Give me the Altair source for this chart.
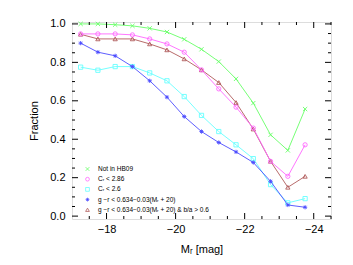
import altair as alt
import pandas as pd

# ---- data ----
mag = [-17.25, -17.75, -18.25, -18.75, -19.25, -19.75, -20.25, -20.75,
       -21.25, -21.75, -22.25, -22.75, -23.25, -23.75]
not_hb09 = [1.00, 1.00, 0.996, 0.99, 0.977, 0.958, 0.92, 0.868, 0.804, 0.714, 0.588, 0.423, 0.342, 0.557]
cr_286 = [0.948, 0.948, 0.948, 0.943, 0.922, 0.896, 0.853, 0.761, 0.662, 0.567, 0.458, 0.285, 0.207, 0.371]
cr_26 = [0.775, 0.759, 0.778, 0.778, 0.745, 0.704, 0.622, 0.524, 0.44, 0.371, 0.299, 0.164, 0.069, 0.091]
gr_cut = [0.90, 0.853, 0.834, 0.778, 0.704, 0.619, 0.518, 0.44, 0.383, 0.334, 0.279, 0.181, 0.058, 0.046]
gr_ba = [0.946, 0.922, 0.922, 0.922, 0.896, 0.865, 0.818, 0.761, 0.695, 0.591, 0.453, 0.285, 0.15, 0.207]

labels = ["Not in HB09", "Cᵣ < 2.86", "Cᵣ < 2.6",
          "g −r < 0.634−0.03(Mᵣ + 20)",
          "g −r < 0.634−0.03(Mᵣ + 20) & b/a > 0.6"]
series = [not_hb09, cr_286, cr_26, gr_cut, gr_ba]
colors = ["#66ff66", "#ff66ff", "#66ffff", "#4c4cff", "#b05a5a"]
XSHAPE = "M-1,-1L1,1M-1,1L1,-1"
ASTER = "M-1,0L1,0M0,-1L0,1M-0.7,-0.7L0.7,0.7M-0.7,0.7L0.7,-0.7"
shapes = [XSHAPE, "circle", "square", ASTER, "triangle-up"]
# draw order (back to front)
order = [0, 2, 3, 4, 1]

x_major = [-18, -20, -22, -24]
x_minor = [-17.5, -18.5, -19.0, -19.5, -20.5, -21.0, -21.5, -22.5, -23.0, -23.5, -24.5]
y_major = [0.0, 0.2, 0.4, 0.6, 0.8, 1.0]
y_minor = [0.05, 0.1, 0.15, 0.25, 0.3, 0.35, 0.45, 0.5, 0.55, 0.65, 0.7, 0.75, 0.85, 0.9, 0.95]

W, H = 259, 197
FONT = "Liberation Sans"

xscale = alt.Scale(domain=[-17.0, -24.5], nice=False, zero=False)
yscale = alt.Scale(domain=[-0.015, 1.01], nice=False, zero=False)

xaxis = alt.Axis(values=x_major, format="d", ticks=False, grid=False, domain=False,
                 labelOverlap=False, labelFlush=False,
                 labelFont=FONT, labelFontSize=11, labelColor="black", labelPadding=4,
                 title="Mᵣ [mag]", titleFont=FONT, titleFontSize=11, titleFontWeight="normal",
                 titleColor="black", titlePadding=9, labelExpr="replace(datum.label, '-', '−')")
yaxis = alt.Axis(values=y_major, format=".1f", ticks=False, grid=False, domain=False,
                 labelOverlap=False, labelFlush=False,
                 labelFont=FONT, labelFontSize=11, labelColor="black", labelPadding=7,
                 title="Fraction", titleFont=FONT, titleFontSize=11, titleFontWeight="normal",
                 titleColor="black", titlePadding=10)

layers = []
for i in order:
    df = pd.DataFrame({"M": mag, "f": series[i]})
    base = alt.Chart(df)
    xenc = alt.X("M:Q", scale=xscale, axis=xaxis)
    yenc = alt.Y("f:Q", scale=yscale, axis=yaxis)
    line = base.mark_line(color=colors[i], strokeWidth=0.9).encode(x=xenc, y=yenc)
    pts = base.mark_point(shape=shapes[i], color=colors[i], filled=False, size=18,
                          strokeWidth=0.9, opacity=1).encode(x=xenc, y=yenc)
    layers += [line, pts]

# inward tick marks on all four sides
def xticks(vals, length):
    d = pd.DataFrame({"t": vals})
    b = alt.Chart(d).mark_rule(color="black", strokeWidth=1)
    xe = alt.X("t:Q", scale=xscale, axis=xaxis, title="Mᵣ [mag]")
    return [
        b.encode(x=xe, y=alt.value(H), y2=alt.value(H - length)),
        b.encode(x=xe, y=alt.value(0), y2=alt.value(length)),
    ]

def yticks(vals, length):
    d = pd.DataFrame({"t": vals})
    b = alt.Chart(d).mark_rule(color="black", strokeWidth=1)
    ye = alt.Y("t:Q", scale=yscale, axis=yaxis, title="Fraction")
    return [
        b.encode(y=ye, x=alt.value(0), x2=alt.value(length)),
        b.encode(y=ye, x=alt.value(W), x2=alt.value(W - length)),
    ]

layers += xticks(x_major, 6) + xticks(x_minor, 3) + yticks(y_major, 6) + yticks(y_minor, 3)

# legend (lower left)
for k in range(5):
    ly = 147 + 10.2 * k
    one = pd.DataFrame({"lab": [labels[k]]})
    layers.append(alt.Chart(one).mark_point(shape=shapes[k], color=colors[k], filled=False,
                                            size=14, strokeWidth=0.8, opacity=1)
                  .encode(x=alt.value(15.5), y=alt.value(ly)))
    layers.append(alt.Chart(one).mark_text(align="left", baseline="middle", font=FONT,
                                           fontSize=6.5, color="black")
                  .encode(x=alt.value(26), y=alt.value(ly), text="lab:N"))

chart = alt.layer(*layers).properties(
    width=W, height=H,
    autosize=alt.AutoSizeParams(type="none"),
    padding={"left": 64, "top": 14, "right": 14, "bottom": 40},
).configure_view(stroke="black", strokeWidth=1.2).configure(background="white")

chart.save("out.html", embed_options={"renderer": "svg", "actions": False})
